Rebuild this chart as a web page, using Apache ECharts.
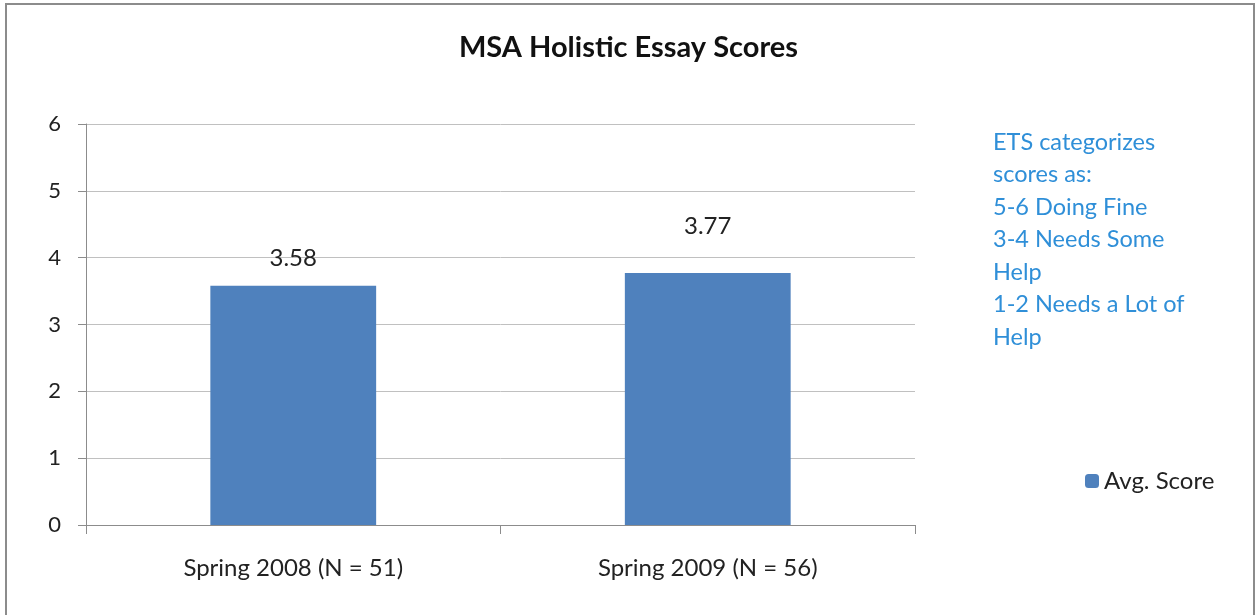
<!DOCTYPE html>
<html>
<head>
<meta charset="utf-8">
<style>
  html, body { margin: 0; padding: 0; background: #fff; }
  #chart { width: 1257px; height: 615px; }
</style>
<script src="https://cdn.jsdelivr.net/npm/echarts@6/dist/echarts.min.js"></script>
</head>
<body>
<div id="chart"></div>
<script>
var categories = ['Spring 2008 (N = 51)', 'Spring 2009 (N = 56)'];
var avgScore = [3.58, 3.77];
var yTicks = [0, 1, 2, 3, 4, 5, 6];
var noteLines = ['ETS categorizes', 'scores as:', '5-6 Doing Fine', '3-4 Needs Some', 'Help', '1-2 Needs a Lot of', 'Help'];

var font = 'Lato, "Open Sans", sans-serif';
var chart = echarts.init(document.getElementById('chart'));

chart.setOption({
    animation: false,
    textStyle: { fontFamily: font },
    graphic: [
        {
            type: 'rect',
            shape: { x: 6, y: 4, width: 1248, height: 700 },
            style: { fill: 'none', stroke: '#8c8c8c', lineWidth: 2 }
        },
        {
            type: 'text',
            left: 993,
            top: 126,
            style: {
                text: noteLines.join('\n'),
                fill: '#2f8fd8',
                font: '23.5px ' + font,
                lineHeight: 32.5
            }
        }
    ],
    title: {
        text: 'MSA Holistic Essay Scores',
        left: 'center',
        top: 28,
        textStyle: { fontSize: 29, fontWeight: 'bold', color: '#111', fontFamily: font }
    },
    legend: {
        data: ['Avg. Score'],
        left: 1080,
        top: 464,
        itemWidth: 14,
        itemHeight: 14,
        itemGap: 7,
        textStyle: { fontSize: 24, color: '#222' }
    },
    grid: { left: 86, right: 342, top: 124, bottom: 90 },
    xAxis: {
        type: 'category',
        data: categories,
        axisLine: { lineStyle: { color: '#8c8c8c' } },
        axisTick: { show: true, length: 9, lineStyle: { color: '#8c8c8c' } },
        axisLabel: { fontSize: 24, color: '#222', margin: 31 }
    },
    yAxis: {
        type: 'value',
        min: yTicks[0],
        max: yTicks[yTicks.length - 1],
        interval: 1,
        axisLine: { show: true, lineStyle: { color: '#8c8c8c' } },
        axisTick: { show: true, length: 8, lineStyle: { color: '#8c8c8c' } },
        splitLine: { lineStyle: { color: '#c0c0c0' } },
        axisLabel: { fontSize: 22, color: '#222', margin: 25 }
    },
    series: [
        {
            name: 'Avg. Score',
            type: 'bar',
            barWidth: '40%',
            itemStyle: { color: '#4f81bd' },
            label: {
                show: true,
                position: 'top',
                fontSize: 24,
                color: '#222'
            },
            data: avgScore.map(function (v, i) {
                return { value: v, label: { distance: i === 0 ? 15 : 35 } };
            })
        }
    ]
});
</script>
</body>
</html>
